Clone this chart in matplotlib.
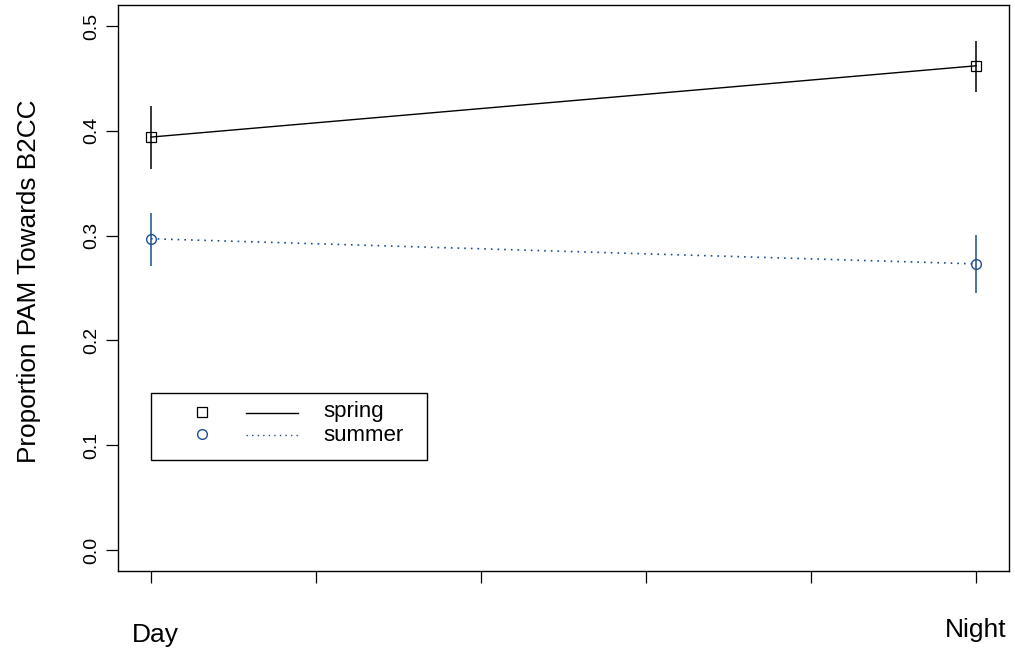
import matplotlib
matplotlib.use("Agg")
import matplotlib.pyplot as plt
from matplotlib.patches import Rectangle

plt.rcParams['font.family'] = ['Liberation Sans', 'DejaVu Sans']

# data
periods = ['Day', 'Night']
xpos = [1, 2]
spring = [0.394, 0.462]
spring_lo = [0.364, 0.437]
spring_hi = [0.424, 0.486]
summer = [0.297, 0.273]
summer_lo = [0.271, 0.245]
summer_hi = [0.322, 0.301]

blue = '#1d4e8f'

fig = plt.figure(figsize=(10.15, 6.53), dpi=100)
ax = fig.add_axes([118 / 1015, 1 - 571 / 653, 891 / 1015, 566 / 653])

# error bars
ax.vlines(xpos, spring_lo, spring_hi, color='black', lw=1.1)
ax.vlines(xpos, summer_lo, summer_hi, color=blue, lw=1.1)

# lines + points
ax.plot(xpos, spring, color='black', lw=1.0, ls='-',
        marker='s', ms=7.5, mfc='none', mec='black', mew=0.9)
ax.plot(xpos, summer, color=blue, lw=1.2, ls=(0, (1, 3)),
        marker='o', ms=7, mfc='none', mec=blue, mew=1.0)

ax.set_xlim(0.96, 2.04)
ax.set_ylim(-0.02, 0.52)
ax.set_xticks([1, 1.2, 1.4, 1.6, 1.8, 2])
ax.set_xticklabels([])
ax.set_yticks([0, 0.1, 0.2, 0.3, 0.4, 0.5])
ax.set_yticklabels(['0.0', '0.1', '0.2', '0.3', '0.4', '0.5'],
                   rotation=90, va='center', fontsize=14)
ax.tick_params(direction='out', length=8.6, width=0.9, pad=4)
for s in ax.spines.values():
    s.set_linewidth(1.0)

# period labels below the axis
ax.text(1.005, -0.0878, periods[0], ha='center', va='baseline',
        fontsize=19, clip_on=False)
ax.text(2.0, -0.083, periods[1], ha='center', va='baseline',
        fontsize=19, clip_on=False)

fig.text(29.5 / 1015, 1 - 281 / 653, 'Proportion PAM Towards B2CC',
         rotation=90, ha='center', va='center', fontsize=18.8)

# legend drawn R-style
T = ax.transAxes
ax.add_patch(Rectangle((0.037, 0.196), 0.3098, 0.1185, transform=T,
                       fill=False, ec='black', lw=1.0))
ax.plot([0.0943], [0.281], transform=T, marker='s', ms=7.5, mfc='none',
        mec='black', mew=0.9, ls='none')
ax.plot([0.0943], [0.242], transform=T, marker='o', ms=7, mfc='none',
        mec=blue, mew=1.0, ls='none')
ax.plot([0.1437, 0.202], [0.279, 0.279], transform=T, color='black', lw=1.0)
ax.plot([0.1437, 0.202], [0.240, 0.240], transform=T, color=blue, lw=1.0,
        ls=(0, (1, 3)))
ax.text(0.230, 0.281, 'spring', transform=T, va='center', fontsize=16)
ax.text(0.230, 0.240, 'summer', transform=T, va='center', fontsize=16)

fig.savefig('out.png', dpi=100)
